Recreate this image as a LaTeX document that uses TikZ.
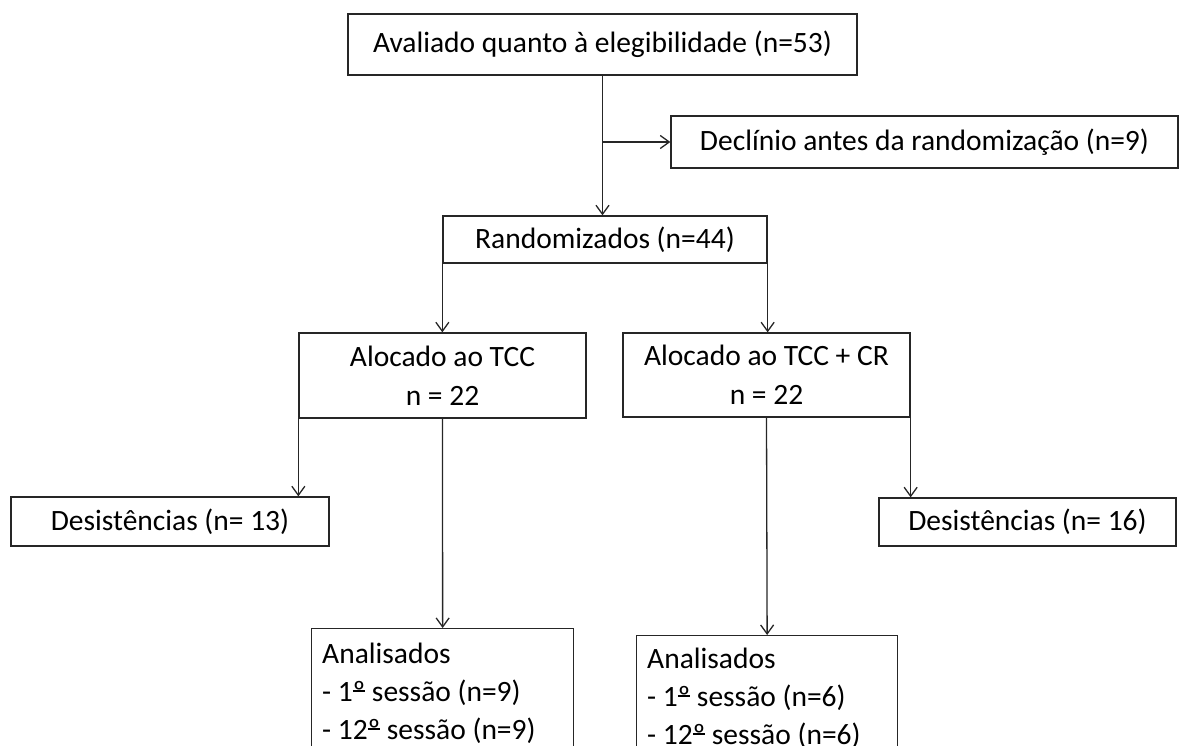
\documentclass[tikz,border=0pt]{standalone}
\usepackage{fontspec}
\setmainfont{Carlito}
\usetikzlibrary{arrows.meta}
\newsavebox\ordbox
\newcommand\ordm{\sbox\ordbox{º}\rlap{\raisebox{0.34em}{\rule{\wd\ordbox}{0.055em}}}\usebox\ordbox}
\begin{document}
\begin{tikzpicture}[x=1pt,y=-1pt,
  box/.style={draw=black!85, line width=1.3pt, rectangle, inner sep=0pt,
    font=\fontsize{29.5}{39}\selectfont, align=center, text=black},
  txt/.style={inner sep=0pt, font=\fontsize{29.5}{38}\selectfont, align=left, text=black, anchor=north west},
  arr/.style={draw=black!85, line width=1.3pt, -{Straight Barb[length=9pt,width=13pt]}},
  ln/.style={draw=black!85, line width=1.3pt}]
\path[use as bounding box] (0,0) rectangle (1184,746);
\clip (0,0) rectangle (1184,746);
% boxes
\node[box, minimum width=509pt, minimum height=61pt] (top) at (602.5,44.5) {Avaliado quanto à elegibilidade (n=53)};
\node[box, minimum width=507pt, minimum height=52pt] (decl) at (924.5,142) {Declínio antes da randomização (n=9)};
\node[box, minimum width=324pt, minimum height=47pt] (rand) at (605,239.5) {Randomizados (n=44)};
\node[box, minimum width=287pt, minimum height=85pt] (tcc) at (442.5,375.5) {Alocado ao TCC\\n = 22};
\node[box, minimum width=287pt, minimum height=84pt] (tcr) at (766.5,375) {Alocado ao TCC + CR\\n = 22};
\node[box, minimum width=318pt, minimum height=49pt] (des1) at (170,521.5) {Desistências (n= 13)};
\node[box, minimum width=297pt, minimum height=48pt] (des2) at (1027.5,522) {Desistências (n= 16)};
\node[box, anchor=north west, minimum width=262pt, minimum height=150pt] (an1) at (311,628) {};
\node[box, anchor=north west, minimum width=261pt, minimum height=150pt] (an2) at (636,635) {};
\node[txt] (an1t) at ([xshift=11pt,yshift=-15pt]an1.north west) {Analisados\\- 1\ordm{} sessão (n=9)\\- 12\ordm{} sessão (n=9)};
\node[txt] (an2t) at ([xshift=11pt,yshift=-13pt]an2.north west) {Analisados\\- 1\ordm{} sessão (n=6)\\- 12\ordm{} sessão (n=6)};
% connectors
\draw[arr] (top.south) -- (top.south |- rand.north);
\draw[arr] (top.south |- decl.west) -- (decl.west);
\draw[arr] (rand.south west) -- (rand.south west |- tcc.north);
\draw[arr] (rand.south east) -- (rand.south east |- tcr.north);
\draw[arr] (tcc.south west) -- (tcc.south west |- des1.north);
\draw[arr] (tcr.south east) -- (tcr.south east |- des2.north);
\draw[arr] (tcc.south) -- (an1.north);
\draw[arr] (tcr.south) -- (an2.north);
\end{tikzpicture}
\end{document}
